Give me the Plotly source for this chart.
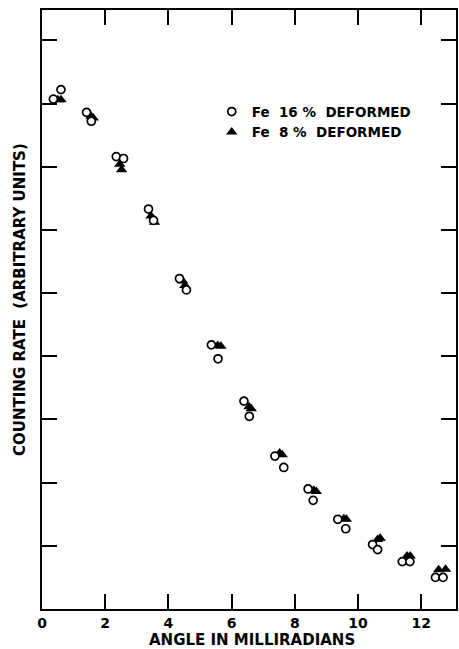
import plotly.graph_objects as go

# Fe 16% deformed (open circles)
circ_x = [0.36, 0.60, 1.41, 1.56, 2.35, 2.58, 3.37, 3.53, 4.35, 4.57, 5.36, 5.57, 6.39, 6.56,
          7.37, 7.65, 8.42, 8.58, 9.36, 9.61, 10.46, 10.62, 11.40, 11.64, 12.45, 12.69]
circ_y = [8.07, 8.22, 7.86, 7.72, 7.16, 7.13, 6.33, 6.15, 5.23, 5.05, 4.18, 3.96, 3.29, 3.05,
          2.42, 2.24, 1.90, 1.72, 1.42, 1.27, 1.02, 0.94, 0.75, 0.75, 0.50, 0.50]

# Fe 8% deformed (filled triangles)
tri_x = [0.50, 0.60, 1.55, 1.62, 2.46, 2.52, 3.45, 3.56, 4.45, 4.52, 5.56, 5.66, 6.55, 6.62,
         7.52, 7.60, 8.60, 8.68, 9.55, 9.63, 10.62, 10.70, 11.55, 11.65, 12.55, 12.77]
tri_y = [8.06, 8.06, 7.80, 7.77, 7.04, 6.95, 6.22, 6.12, 5.19, 5.12, 4.17, 4.16, 3.20, 3.17,
         2.47, 2.44, 1.88, 1.86, 1.43, 1.42, 1.10, 1.12, 0.84, 0.84, 0.62, 0.63]

x_ticks = [0, 2, 4, 6, 8, 10, 12]
y_ticks = [1, 2, 3, 4, 5, 6, 7, 8, 9]

FONT = "DejaVu Sans"

fig = go.Figure()
fig.add_trace(go.Scatter(
    x=tri_x, y=tri_y, mode="markers", name="<b>Fe  8 %  DEFORMED</b>",
    marker=dict(symbol="triangle-up", size=10, color="black", line=dict(width=0)),
))
fig.add_trace(go.Scatter(
    x=circ_x, y=circ_y, mode="markers", name="<b>Fe  16 %  DEFORMED</b>",
    marker=dict(symbol="circle", size=8, color="white", line=dict(width=1.7, color="black")),
))

axis_common = dict(
    showline=True, linecolor="black", linewidth=1.5, mirror="allticks",
    ticks="inside", ticklen=15, tickwidth=1.5, tickcolor="black",
    showgrid=False, zeroline=False,
)

fig.update_layout(
    width=459, height=649,
    margin=dict(l=42, r=1, t=10, b=40),
    paper_bgcolor="white", plot_bgcolor="white",
    font=dict(family=FONT, size=13, color="black"),
    showlegend=True,
    legend=dict(
        x=0.41, y=0.856, xanchor="left", yanchor="top",
        traceorder="reversed", bgcolor="rgba(0,0,0,0)",
        font=dict(family=FONT, size=13.5, color="black"),
        itemwidth=30, tracegroupgap=0,
    ),
    xaxis=dict(
        range=[0, 13.1], tickvals=x_ticks, ticktext=["<b>%d</b>" % v for v in x_ticks],
        tickfont=dict(family=FONT, size=14), **axis_common,
    ),
    yaxis=dict(
        range=[0, 9.48], tickvals=y_ticks, showticklabels=False, **axis_common,
    ),
    annotations=[
        dict(text="<b>ANGLE IN MILLIRADIANS</b>", xref="paper", yref="paper",
             x=0.507, y=-0.051, xanchor="center", yanchor="middle", showarrow=False,
             font=dict(family=FONT, size=15)),
        dict(text="<b>COUNTING RATE  (ARBITRARY UNITS)</b>", xref="paper", yref="paper",
             x=-0.053, y=0.516, xanchor="center", yanchor="middle", showarrow=False,
             textangle=-90, font=dict(family=FONT, size=15)),
    ],
)

fig.write_html("out.html")
